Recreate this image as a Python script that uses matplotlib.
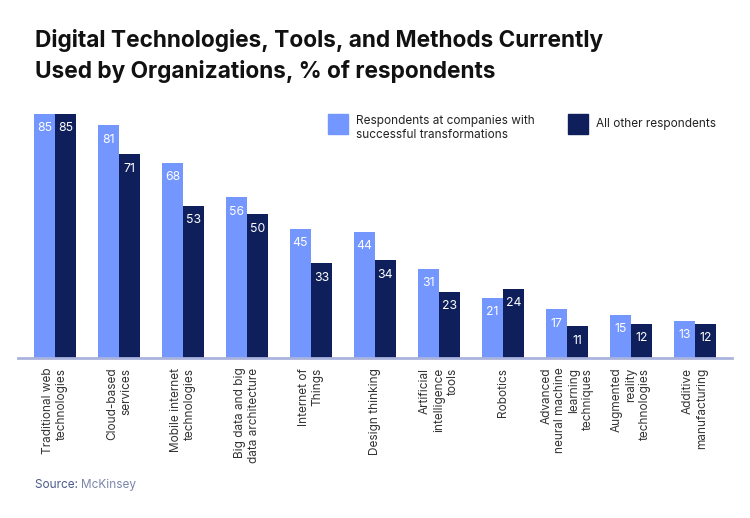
import matplotlib
matplotlib.use("Agg")
import matplotlib.pyplot as plt
import numpy as np

categories = [
    "Traditional web\ntechnologies",
    "Cloud-based\nservices",
    "Mobile internet\ntechnologies",
    "Big data and big\ndata architecture",
    "Internet of\nThings",
    "Design thinking",
    "Artificial\nintelligence\ntools",
    "Robotics",
    "Advanced\nneural machine\nlearning\ntechniques",
    "Augmented\nreality\ntechnologies",
    "Additive\nmanufacturing",
]
successful = [85, 81, 68, 56, 45, 44, 31, 21, 17, 15, 13]
others = [85, 71, 53, 50, 33, 34, 23, 24, 11, 12, 12]
series_names = ["Respondents at companies with\nsuccessful transformations", "All other respondents"]

LIGHT = "#7396FF"
DARK = "#0E1F5B"
FONT = ["Inter", "DejaVu Sans"]
plt.rcParams["font.family"] = FONT

fig = plt.figure(figsize=(7.5, 5.18), dpi=100)
ax = fig.add_axes([18/750, (518-358)/518, (732-18)/750, (358-114)/518])

x = np.arange(len(categories))
w = 0.33
b1 = ax.bar(x - w/2, successful, w, color=LIGHT, label=series_names[0])
b2 = ax.bar(x + w/2, others, w, color=DARK, label=series_names[1])

for bars, vals in ((b1, successful), (b2, others)):
    for r, v in zip(bars, vals):
        ax.annotate(str(v), (r.get_x() + r.get_width()/2, v), xytext=(0, -6),
                    textcoords="offset points", ha="center", va="top",
                    color="white", fontsize=8.8)

ax.set_xlim(-0.578, 10.58)
ax.set_ylim(0, 85)
for s in ("top", "right", "left"):
    ax.spines[s].set_visible(False)
ax.spines["bottom"].set_color("#AAB3DE")
ax.spines["bottom"].set_linewidth(2)
ax.set_yticks([])
ax.set_xticks(x)
ax.set_xticklabels(categories, rotation=90, ha="center", va="top",
                   multialignment="right", fontsize=8.5, color="#333333")
ax.tick_params(axis="x", length=0, pad=7)

fig.text(35/750, 1 - 40/518, "Digital Technologies, Tools, and Methods Currently",
         fontsize=16.3, fontweight="bold", color="#111111", va="center", ha="left")
fig.text(35/750, 1 - 72/518, "Used by Organizations, % of respondents",
         fontsize=16.3, fontweight="bold", color="#111111", va="center", ha="left")

# legend
from matplotlib.patches import Rectangle
fig.patches.append(Rectangle((328/750, 1 - 134/518), 20/750, 20/518,
                             transform=fig.transFigure, color=LIGHT))
fig.text(356/750, 1 - 128/518, series_names[0], fontsize=8.5, color="#222222",
         va="center", ha="left", linespacing=1.3)
fig.patches.append(Rectangle((568/750, 1 - 134/518), 20/750, 20/518,
                             transform=fig.transFigure, color=DARK))
fig.text(596/750, 1 - 124/518, series_names[1], fontsize=8.5, color="#222222",
         va="center", ha="left")

t = fig.text(35/750, 1 - 485/518, "Source: ", fontsize=8.5, color="#4B5A8C",
             va="center", ha="left")
fig.canvas.draw()
bb = t.get_window_extent()
fig.text(bb.x1 / 750, 1 - 485/518, "McKinsey", fontsize=8.5, color="#7A86AA",
         va="center", ha="left")

fig.savefig("out.png", dpi=100)
